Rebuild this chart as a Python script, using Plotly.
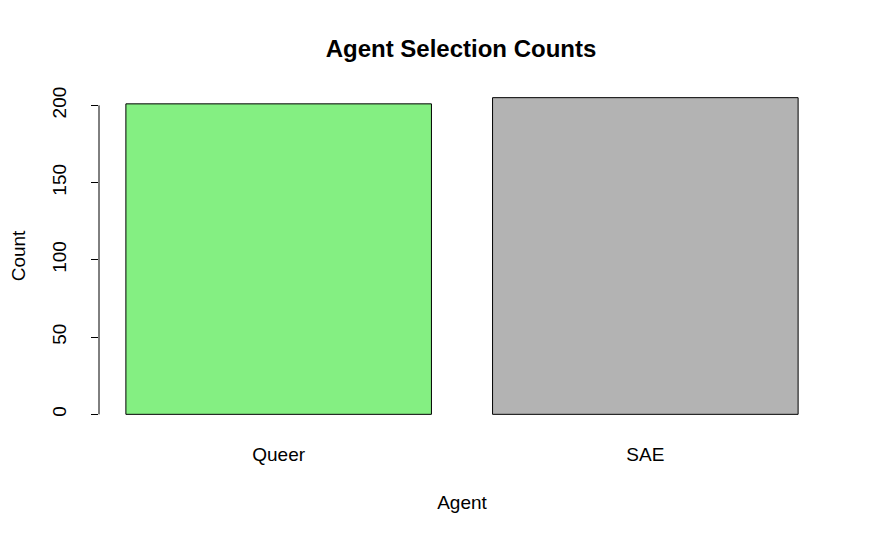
import plotly.graph_objects as go

agents = ["Queer", "SAE"]
counts = [201, 205]
bar_colors = ["#84EF82", "#B3B3B3"]

# base-R barplot layout: width 1, space 0.2
xpos = [0.7, 1.9]

fig = go.Figure()
fig.add_trace(go.Bar(
    x=xpos, y=counts, width=1.0,
    marker=dict(color=bar_colors, line=dict(color="black", width=1)),
    showlegend=False,
))

# y axis line only over the tick span (like R)
fig.add_shape(type="line", xref="paper", yref="y", x0=0, x1=0, y0=0, y1=200,
              line=dict(color="black", width=1))

fig.update_layout(
    width=875, height=540,
    margin=dict(l=91, r=58, t=77, b=121),
    plot_bgcolor="white", paper_bgcolor="white",
    font=dict(family="Liberation Sans, Arial, sans-serif", size=19, color="black"),
    title=dict(text="<b>Agent Selection Counts</b>", x=0.5177, xanchor="center",
               y=0.925, yanchor="middle", font=dict(size=24)),
    xaxis=dict(range=[0.112, 2.488], tickvals=xpos, ticktext=agents,
               showgrid=False, zeroline=False, showline=False, automargin=False,
               ticks="outside", ticklen=10, tickcolor="rgba(0,0,0,0)",
               tickfont=dict(size=19),
               title=dict(text="Agent", standoff=31, font=dict(size=19))),
    yaxis=dict(range=[-8.2, 213.2], tickvals=[0, 50, 100, 150, 200],
               showgrid=False, zeroline=False, showline=False, automargin=False,
               ticks="outside", ticklen=7, tickcolor="black", tickangle=-90,
               ticklabelstandoff=17, tickfont=dict(size=19),
               title=dict(text="Count", standoff=34, font=dict(size=19))),
)

fig.write_html("out.html")
